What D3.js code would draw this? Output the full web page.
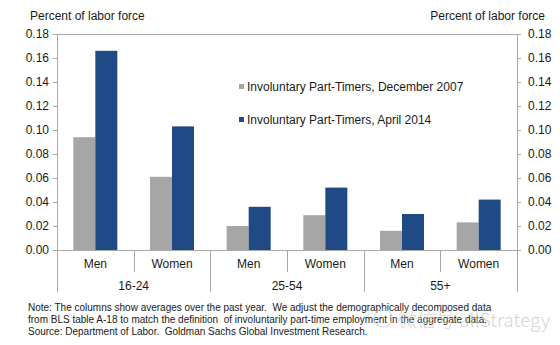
<!DOCTYPE html>
<html><head><meta charset="utf-8">
<script src="https://cdn.jsdelivr.net/npm/d3@7"></script>
<style>
html,body{margin:0;padding:0;background:#fff;}
svg{display:block;font-family:"Liberation Sans",Arial,sans-serif;}
</style></head>
<body>
<svg id="chart" width="560" height="345"></svg>
<script>
const ageGroups = ["16-24", "25-54", "55+"];
const sexes = ["Men", "Women"];
const seriesNames = ["Involuntary Part-Timers, December 2007", "Involuntary Part-Timers, April 2014"];
const dec2007 = [0.094, 0.061, 0.020, 0.029, 0.016, 0.023];
const apr2014 = [0.166, 0.103, 0.036, 0.052, 0.030, 0.042];
const yTicks = [0, 0.02, 0.04, 0.06, 0.08, 0.10, 0.12, 0.14, 0.16, 0.18];
const noteLines = [
  "Note: The columns show averages over the past year.  We adjust the demographically decomposed data",
  "from BLS table A-18 to match the definition  of involuntarily part-time employment in the aggregate data.",
  "Source: Department of Labor.  Goldman Sachs Global Investment Research."
];
const colors = ["#a6a6a6", "#1f4a86"];

const svg = d3.select("#chart");
const pLeft = 57, pRight = 517, pTop = 34, pBase = 250;
const axisColor = "#a8a8a8";

const cats = [];
ageGroups.forEach(g => sexes.forEach(s => cats.push(g + "|" + s)));
const data = cats.map((c, i) => ({cat: c, sex: c.split("|")[1], vals: [dec2007[i], apr2014[i]]}));

const x0 = d3.scaleBand().domain(cats).range([pLeft, pRight]).padding(0);
const bw = x0.bandwidth();
const x1 = d3.scaleBand().domain([0, 1]).range([bw * 0.213, bw * 0.787]).padding(0);
const xg = d3.scaleBand().domain(ageGroups).range([pLeft, pRight]).padding(0);
const y = d3.scaleLinear().domain([0, 0.18]).range([pBase, pTop]);

// bars
const g = svg.append("g");
data.forEach(d => {
  d.vals.forEach((v, k) => {
    g.append("rect")
      .attr("x", x0(d.cat) + x1(k))
      .attr("y", y(v))
      .attr("width", x1.bandwidth())
      .attr("height", pBase - y(v))
      .attr("fill", colors[k]);
  });
});

// frame: top line, baseline
svg.append("line").attr("x1", pLeft).attr("x2", pRight).attr("y1", pTop + 0.5).attr("y2", pTop + 0.5)
  .attr("stroke", axisColor).attr("stroke-width", 1);
svg.append("line").attr("x1", pLeft).attr("x2", pRight).attr("y1", pBase + 0.5).attr("y2", pBase + 0.5)
  .attr("stroke", axisColor).attr("stroke-width", 1);

// left axis
const yl = svg.append("g").attr("transform", `translate(${pLeft},0)`)
  .call(d3.axisLeft(y).tickValues(yTicks).tickFormat(d3.format(".2f")).tickSize(4).tickPadding(4));
// right axis
const yr = svg.append("g").attr("transform", `translate(${pRight},0)`)
  .call(d3.axisRight(y).tickValues(yTicks).tickFormat(d3.format(".2f")).tickSize(4).tickPadding(7));
[yl, yr].forEach(a => {
  a.select(".domain").remove();
  a.selectAll(".tick line").attr("stroke", axisColor);
  a.selectAll(".tick text").attr("fill", "#1a1a1a").style("font-size", "12px")
    .style("font-family", '"Liberation Sans",Arial,sans-serif');
});
// axis vertical lines (extending down through category area)
[pLeft, pRight].forEach(xx => {
  svg.append("line").attr("x1", xx + 0.5).attr("x2", xx + 0.5).attr("y1", pTop).attr("y2", 292)
    .attr("stroke", axisColor);
});

// category separators
cats.forEach((c, i) => {
  if (i === 0) return;
  const xx = Math.round(x0(c)) + 0.5;
  const major = i % 2 === 0;
  svg.append("line").attr("x1", xx).attr("x2", xx).attr("y1", pBase).attr("y2", major ? 292 : 272)
    .attr("stroke", axisColor);
});

// category labels
svg.append("g").selectAll("text").data(data).join("text")
  .attr("x", d => x0(d.cat) + bw / 2).attr("y", 268)
  .attr("text-anchor", "middle").style("font-size", "12px").attr("fill", "#1a1a1a")
  .text(d => d.sex);
svg.append("g").selectAll("text").data(ageGroups).join("text")
  .attr("x", d => xg(d) + xg.bandwidth() / 2).attr("y", 290)
  .attr("text-anchor", "middle").style("font-size", "12px").attr("fill", "#1a1a1a")
  .text(d => d);

// axis titles
svg.append("text").attr("x", 30).attr("y", 20).style("font-size", "12px").attr("fill", "#1a1a1a")
  .text("Percent of labor force");
svg.append("text").attr("x", 545).attr("y", 20).attr("text-anchor", "end").style("font-size", "12px")
  .attr("fill", "#1a1a1a").text("Percent of labor force");

// legend
const legY = [87, 120];
seriesNames.forEach((s, k) => {
  svg.append("rect").attr("x", 239).attr("y", legY[k] - 3).attr("width", 5).attr("height", 5)
    .attr("fill", colors[k]);
  svg.append("text").attr("x", 247).attr("y", legY[k] + 4).style("font-size", "12px")
    .attr("fill", "#1a1a1a").text(s);
});

// note
noteLines.forEach((t, i) => {
  svg.append("text").attr("x", 28).attr("y", 311 + i * 12).style("font-size", "10px")
    .style("white-space", "pre").attr("xml:space", "preserve")
    .attr("fill", "#1a1a1a").text(t);
});

// watermark (faint overlay in the source image)
svg.append("circle").attr("cx", 383).attr("cy", 318).attr("r", 9)
  .attr("fill", "none").attr("stroke", "#d0d0d0").attr("stroke-width", 1.2).attr("opacity", 0.8);
svg.append("text").attr("x", 398).attr("y", 327).style("font-size", "19px")
  .style("font-family", '"Noto Sans CJK SC","DejaVu Sans",sans-serif').style("font-weight", "300")
  .attr("fill", "#c8c8c8").attr("opacity", 0.75).text("微信号 allStrategy");
</script>
</body></html>
